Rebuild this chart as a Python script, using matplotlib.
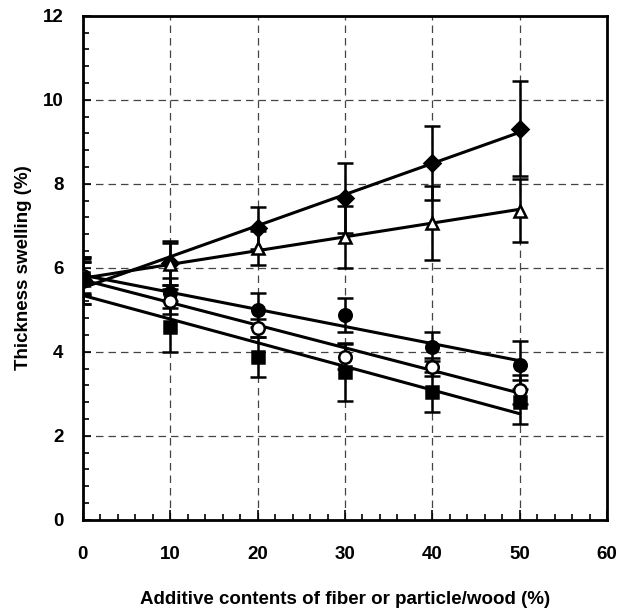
import numpy as np
import matplotlib
matplotlib.use('Agg')
from matplotlib import pyplot as plt
from matplotlib.ticker import MultipleLocator

plt.rcParams['font.family'] = ['Liberation Sans', 'DejaVu Sans']
plt.rcParams['font.weight'] = 'bold'

x = np.array([0, 10, 20, 30, 40, 50])

# filled diamond
y_dia = [5.70, 6.12, 6.95, 7.67, 8.50, 9.31]
e_dia = [0.55, 0.53, 0.50, 0.83, 0.88, 1.13]
# open triangle
y_tri = [5.70, 6.10, 6.47, 6.74, 7.07, 7.36]
e_tri = [0.55, 0.50, 0.40, 0.74, 0.88, 0.75]
# filled circle
y_cir = [5.75, 5.40, 5.00, 4.88, 4.12, 3.69]
e_cir = [0.40, 0.35, 0.40, 0.40, 0.35, 0.57]
# open circle
y_ocir = [5.80, 5.20, 4.57, 3.88, 3.64, 3.10]
e_ocir = [0.40, 0.30, 0.22, 0.30, 0.22, 0.35]
# filled square
y_sq = [5.75, 4.60, 3.88, 3.52, 3.05, 2.81]
e_sq = [0.40, 0.60, 0.48, 0.69, 0.48, 0.52]

series = [
    (y_dia, e_dia, 'D', 'k', 8),
    (y_tri, e_tri, '^', 'white', 9),
    (y_cir, e_cir, 'o', 'k', 9),
    (y_ocir, e_ocir, 'o', 'white', 9),
    (y_sq, e_sq, 's', 'k', 9),
]

fig = plt.figure(figsize=(6.33, 6.08), dpi=100)
ax = fig.add_axes([0.131, 0.145, 0.828, 0.829])

ax.grid(True, which='major', linestyle=(0, (6, 4)), color='#444444', linewidth=0.9)
ax.set_axisbelow(True)

xx = np.linspace(0, 50, 2)
for y, e, m, fc, ms in series:
    ax.errorbar(x, y, yerr=e, fmt='none', ecolor='k', elinewidth=1.8,
                capsize=5.5, capthick=1.8, zorder=3)
    p = np.polyfit(x, y, 1)
    ax.plot(xx, np.polyval(p, xx), color='k', linewidth=2.2, zorder=4)
    ax.plot(x, y, linestyle='none', marker=m, markersize=ms,
            markerfacecolor=fc, markeredgecolor='k', markeredgewidth=1.8,
            zorder=5)

ax.set_xlim(0, 60)
ax.set_ylim(0, 12)
ax.xaxis.set_major_locator(MultipleLocator(10))
ax.xaxis.set_minor_locator(MultipleLocator(2))
ax.yaxis.set_major_locator(MultipleLocator(2))
ax.yaxis.set_minor_locator(MultipleLocator(0.4))
ax.tick_params(which='both', direction='in', top=False, right=False,
               labelsize=13.5, width=1.2)
ax.tick_params(axis='x', which='major', length=7, pad=19)
ax.tick_params(axis='y', which='major', length=6, pad=14)
ax.tick_params(which='minor', length=4)
for lab in ax.get_xticklabels() + ax.get_yticklabels():
    lab.set_fontweight('bold')

for s in ax.spines.values():
    s.set_linewidth(2)

ax.set_xlabel('Additive contents of fiber or particle/wood (%)',
              fontsize=13.5, fontweight='bold', labelpad=20)
ax.set_ylabel('Thickness swelling (%)', fontsize=13.5, fontweight='bold',
              labelpad=8)

fig.savefig('out.png', dpi=100)
